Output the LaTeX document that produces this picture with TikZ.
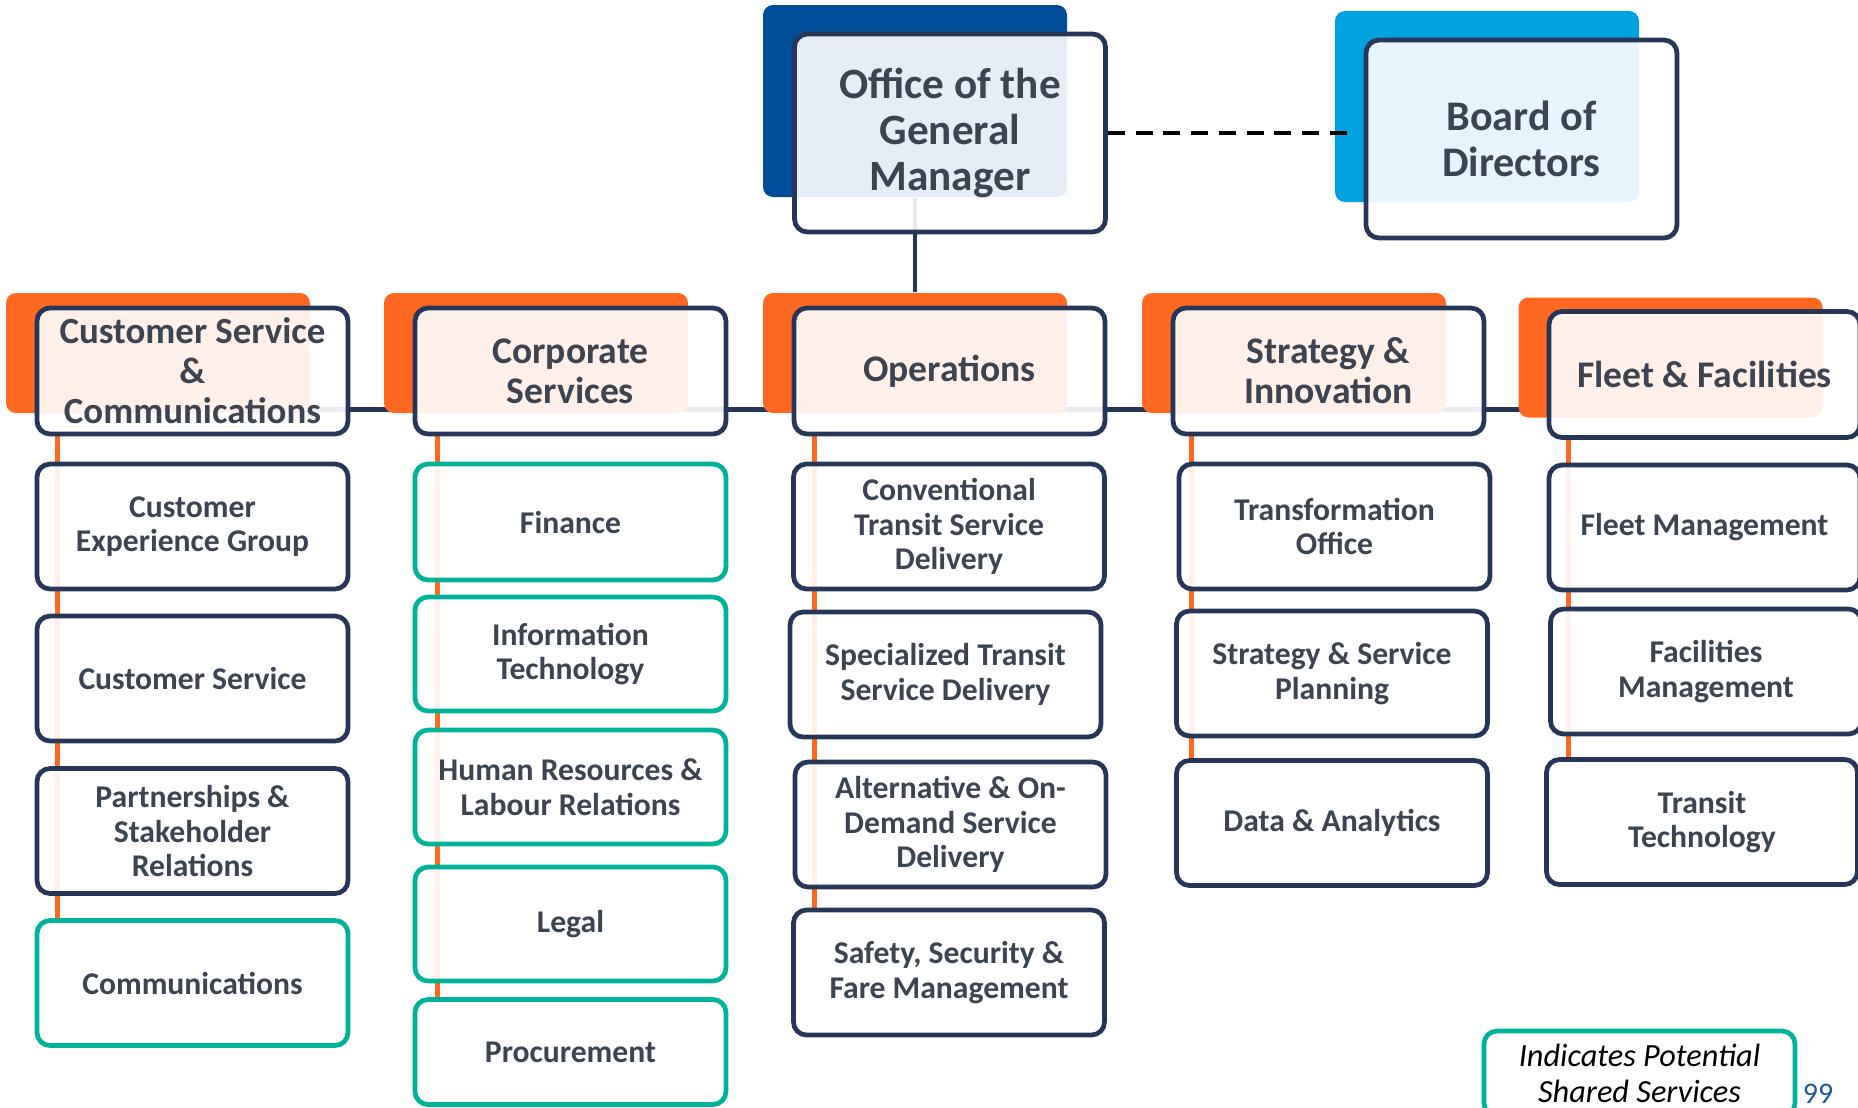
\documentclass[tikz,border=0pt]{standalone}
\usepackage{fontspec}
\setmainfont{Carlito}
\usepackage{tikz}
\usetikzlibrary{backgrounds}
\definecolor{NavyLine}{RGB}{37, 54, 88}
\definecolor{DeptOrange}{RGB}{255, 104, 32}
\definecolor{GMBlue}{RGB}{0, 77, 153}
\definecolor{BoardCyan}{RGB}{0, 163, 224}
\definecolor{SharedTeal}{RGB}{0, 179, 152}
\definecolor{SlateText}{RGB}{59, 68, 80}
\definecolor{PageBlue}{RGB}{31, 86, 160}

\begin{document}
\begin{tikzpicture}[
            back/.style={rounded corners=0.1cm, minimum width=3.04cm, minimum height=1.20cm, inner sep=0pt},
            deptback/.style={back, fill=DeptOrange},
            box/.style={draw=NavyLine, line width=1.35pt, rounded corners=0.13cm, fill=white, fill opacity=0.9, text opacity=1, text=SlateText, align=center, inner sep=2pt, minimum width=3.11cm, minimum height=1.25cm},
            topbox/.style={box, minimum height=1.98cm, font=\fontsize{12.3}{13}\selectfont\bfseries},
            dept/.style={box, minimum height=1.26cm, font=\fontsize{10.7}{11.4}\selectfont\bfseries},
            unit/.style={box, font=\fontsize{9}{9.8}\selectfont\bfseries},
            shared/.style={unit, draw=SharedTeal},
            trunk/.style={NavyLine, line width=1.3pt},
            spine/.style={DeptOrange, line width=1.4pt}
        ]
        \useasboundingbox (0,0) rectangle (18.58,-11.07);

        % --- TOP: GM office and board ---
        \node[back, fill=GMBlue, minimum height=1.92cm] (gmbg) at (9.15,-1.01) {};
        \node[topbox] (gm) at (9.50,-1.33) {Office of the\\General\\Manager};
        \node[back, fill=BoardCyan, minimum height=1.91cm] (boardbg) at (14.87,-1.065) {};
        \node[topbox, font=\fontsize{12}{12.9}\selectfont\bfseries] (board) at (15.215,-1.39) {Board of\\Directors};

        % --- DEPARTMENTS ---
        \node[deptback] (cscbg) at (1.58,-3.53) {};
        \node[dept, inner sep=0pt, font=\fontsize{10.5}{11.4}\selectfont\bfseries] (csc) at (1.925,-3.71) {Customer Service\\\&\\Communications};
        \node[deptback] (corpbg) at (5.36,-3.53) {};
        \node[dept] (corp) at (5.705,-3.71) {Corporate\\Services};
        \node[deptback] (opsbg) at (9.15,-3.53) {};
        \node[dept] (ops) at (9.495,-3.71) {Operations};
        \node[deptback] (stratbg) at (12.94,-3.53) {};
        \node[dept] (strat) at (13.285,-3.71) {Strategy \&\\Innovation};
        \node[deptback] (fleetbg) at (16.705,-3.575) {};
        \node[dept] (fleet) at (17.045,-3.745) {Fleet \& Facilities};

        % --- Customer Service & Communications ---
        \node[unit] (cxgroup) at (1.925,-5.265) {Customer\\Experience Group};
        \node[unit] (custsvc) at (1.925,-6.785) {Customer Service};
        \node[unit] (partners) at (1.925,-8.31) {Partnerships \&\\Stakeholder\\Relations};
        \node[shared] (comms) at (1.925,-9.83) {Communications};

        % --- Corporate Services ---
        \node[shared, minimum height=1.16cm] (finance) at (5.705,-5.22) {Finance};
        \node[shared, minimum height=1.14cm] (infotech) at (5.705,-6.54) {Information\\Technology};
        \node[shared, minimum height=1.14cm] (hrlr) at (5.705,-7.87) {Human Resources \&\\Labour Relations};
        \node[shared, minimum height=1.14cm] (legal) at (5.705,-9.24) {Legal};
        \node[shared, minimum height=1.05cm] (procure) at (5.705,-10.52) {Procurement};

        % --- Operations ---
        \node[unit] (conventional) at (9.49,-5.265) {Conventional\\Transit Service\\Delivery};
        \node[unit] (specialized) at (9.455,-6.745) {Specialized Transit\\Service Delivery};
        \node[unit] (ondemand) at (9.505,-8.245) {Alternative \& On-\\Demand Service\\Delivery};
        \node[unit] (safety) at (9.49,-9.725) {Safety, Security \&\\Fare Management};

        % --- Strategy & Innovation ---
        \node[unit] (transform) at (13.345,-5.265) {Transformation\\Office};
        \node[unit] (planning) at (13.32,-6.735) {Strategy \& Service\\Planning};
        \node[unit] (analytics) at (13.32,-8.23) {Data \& Analytics};

        % --- Fleet & Facilities ---
        \node[unit] (fleetmgmt) at (17.045,-5.275) {Fleet Management};
        \node[unit] (facilities) at (17.06,-6.715) {Facilities\\Management};
        \node[unit] (transittech) at (17.02,-8.22) {Transit\\Technology};

        % legend + page number
        \node[box, draw=SharedTeal, minimum height=0.85cm, font=\fontsize{9.2}{10.4}\selectfont\itshape, text=black] (legend) at (16.395,-10.735) {Indicates Potential\\Shared Services};
        \node[font=\fontsize{8.5}{9}\selectfont, text=PageBlue] (pagenum) at (18.18,-10.94) {99};

        % dashed link GM -> board
        \draw[black, line width=1.1pt, dash pattern=on 4.8pt off 3.1pt] (gm.east) -- ([xshift=0.18cm]gm.east -| boardbg.west);

        % --- CONNECTORS (behind the boxes) ---
        \begin{pgfonlayer}{background}
        \draw[trunk] (gmbg.south) -- (opsbg.north);
        \draw[trunk] ([yshift=0.04cm]cscbg.south) -- ([yshift=0.04cm]cscbg.south -| fleetbg.center);
        \draw[spine] ([xshift=-1.35cm]csc.south) -- ([xshift=-1.35cm]csc.south |- comms.north);
        \draw[spine] ([xshift=-1.33cm]corp.south) -- ([xshift=-1.33cm]corp.south |- procure.north);
        \draw[spine] ([xshift=-1.35cm]ops.south) -- ([xshift=-1.35cm]ops.south |- safety.north);
        \draw[spine] ([xshift=-1.37cm]strat.south) -- ([xshift=-1.37cm]strat.south |- analytics.north);
        \draw[spine] ([xshift=-1.36cm]fleet.south) -- ([xshift=-1.36cm]fleet.south |- transittech.north);
        \end{pgfonlayer}

        \end{tikzpicture}
\end{document}
